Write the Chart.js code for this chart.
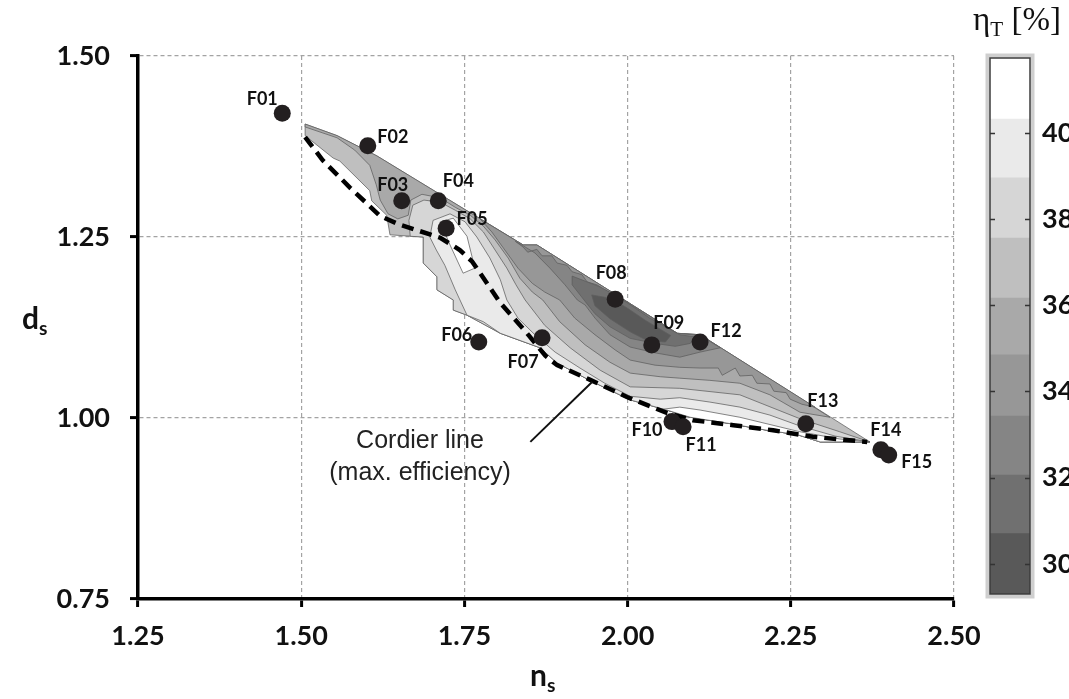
<!DOCTYPE html>
<html>
<head>
<meta charset="utf-8">
<script src="https://cdn.jsdelivr.net/npm/chart.js@4.4.0/dist/chart.umd.min.js"></script>
<style>
body { margin: 0; background: #fff; overflow: hidden; }
#wrap { position: relative; width: 1069px; height: 699px; }
canvas { position: absolute; top: 0; }
.ttl { position: absolute; font-family: Lato, sans-serif; font-weight: bold; color: #111; line-height: 28px; white-space: nowrap; }
.ttl sub { font-size: 0.64em; vertical-align: -0.3em; }
</style>
</head>
<body>
<div id="wrap">
  <canvas id="main" width="1069" height="699" style="left:0"></canvas>
  <canvas id="bar" width="109" height="699" style="left:960px"></canvas>
  <div class="ttl" style="left:22px;top:303px;font-size:30px">d<sub>s</sub></div>
  <div class="ttl" style="left:530px;top:660px;font-size:30px">n<sub>s</sub></div>
  <div class="ttl" style="left:973px;top:5px;font-size:33px;font-weight:normal;font-family:'Liberation Serif',serif">η<sub>T</sub> [%]</div>
</div>
<script>
// axes
var xTickValues = [1.25, 1.50, 1.75, 2.00, 2.25, 2.50];
var yTickValues = [0.75, 1.00, 1.25, 1.50];

// measured designs
var pointNames = ["F01","F02","F03","F04","F05","F06","F07","F08","F09","F10","F11","F12","F13","F14","F15"];
var pointNs = [1.471, 1.602, 1.654, 1.710, 1.722, 1.772, 1.869, 1.981, 2.037, 2.068, 2.085, 2.111, 2.273, 2.388, 2.400];
var pointDs = [1.421, 1.376, 1.300, 1.300, 1.262, 1.105, 1.111, 1.164, 1.101, 0.995, 0.988, 1.105, 0.992, 0.956, 0.949];
var labelOffsets = [[-20,-14],[25,-9],[-9,-16],[20,-20],[26,-9],[-22,-7],[-19,25],[-4,-26],[17,-22],[-25,9],[18,18],[26,-11],[17,-23],[5,-20],[28,7]];

// efficiency bands (colour bar)
var bandEdges = [29.30, 30.70, 32.06, 33.43, 34.85, 36.17, 37.56, 38.96, 40.32, 41.74];
var bandColors = ["#595959","#707070","#858585","#979797","#a9a9a9","#bfbfbf","#d6d6d6","#eaeaea","#ffffff"];
var barTicks = [30, 32, 34, 36, 38, 40];

// contour regions [ns, ds]
var envelope = [[1.506,1.406],[1.555,1.390],[1.616,1.362],[1.840,1.239],[1.861,1.239],[2.076,1.117],[2.111,1.115],[2.371,0.967],[2.295,0.967],[2.260,0.977],[2.214,0.983],[2.152,0.993],[2.096,1.001],[2.060,1.011],[2.004,1.025],[1.942,1.052],[1.892,1.076],[1.866,1.097],[1.805,1.117],[1.754,1.142],[1.733,1.149],[1.733,1.163],[1.708,1.177],[1.708,1.195],[1.687,1.214],[1.687,1.250],[1.636,1.253],[1.631,1.280],[1.608,1.300],[1.605,1.314],[1.559,1.355],[1.549,1.359],[1.506,1.390]];
var zone38 = [[1.667,1.251],[1.665,1.273],[1.671,1.294],[1.688,1.301],[1.713,1.298],[1.736,1.287],[1.759,1.275],[1.779,1.257],[1.797,1.232],[1.815,1.207],[1.829,1.184],[1.843,1.163],[1.873,1.128],[1.912,1.097],[1.958,1.066],[2.004,1.043],[2.080,1.041],[2.172,1.032],[2.264,0.999],[2.325,0.981],[2.371,0.967],[2.295,0.967],[2.260,0.977],[2.214,0.983],[2.152,0.993],[2.096,1.001],[2.060,1.011],[2.004,1.025],[1.942,1.052],[1.892,1.076],[1.866,1.097],[1.805,1.117],[1.754,1.142],[1.733,1.149],[1.733,1.163],[1.708,1.177],[1.708,1.195],[1.687,1.214],[1.687,1.250]];
var zone39 = [[1.697,1.250],[1.702,1.273],[1.728,1.282],[1.751,1.271],[1.769,1.250],[1.789,1.221],[1.805,1.191],[1.815,1.163],[1.832,1.138],[1.858,1.115],[1.889,1.091],[1.927,1.069],[1.965,1.048],[2.004,1.030],[2.050,1.026],[2.080,1.028],[2.126,1.022],[2.172,1.015],[2.218,1.004],[2.264,0.989],[2.318,0.975],[2.371,0.967],[2.295,0.967],[2.260,0.977],[2.214,0.983],[2.152,0.993],[2.096,1.001],[2.060,1.011],[2.004,1.025],[1.942,1.052],[1.892,1.076],[1.866,1.097],[1.805,1.117],[1.779,1.133],[1.754,1.142],[1.736,1.177],[1.720,1.211],[1.707,1.232]];
var peak41 = [[1.713,1.271],[1.733,1.276],[1.754,1.251],[1.766,1.207],[1.748,1.200],[1.728,1.239]];
var edge41 = [[2.053,1.012],[2.080,1.015],[2.111,1.011],[2.172,1.001],[2.264,0.981],[2.325,0.971],[2.371,0.967],[2.295,0.967],[2.260,0.977],[2.214,0.983],[2.152,0.993],[2.096,1.001],[2.060,1.011]];
var zone35 = [[1.506,1.406],[1.555,1.390],[1.616,1.362],[1.840,1.239],[1.861,1.239],[2.076,1.117],[2.111,1.115],[2.310,1.001],[2.264,1.008],[2.218,1.032],[2.172,1.048],[2.126,1.052],[2.080,1.055],[2.050,1.057],[2.004,1.062],[1.973,1.077],[1.935,1.101],[1.896,1.133],[1.870,1.163],[1.854,1.174],[1.835,1.193],[1.817,1.221],[1.797,1.246],[1.779,1.265],[1.759,1.280],[1.736,1.291],[1.713,1.304],[1.685,1.309],[1.668,1.301],[1.664,1.280],[1.648,1.275],[1.633,1.282],[1.621,1.301],[1.615,1.322],[1.605,1.349],[1.582,1.370],[1.555,1.387],[1.506,1.402]];
var zone34 = [[1.774,1.275],[1.840,1.239],[1.861,1.239],[2.076,1.117],[2.111,1.115],[2.287,1.015],[2.267,1.019],[2.249,1.026],[2.243,1.035],[2.224,1.037],[2.218,1.047],[2.198,1.048],[2.191,1.059],[2.172,1.058],[2.165,1.069],[2.145,1.059],[2.139,1.069],[2.111,1.069],[2.080,1.070],[2.042,1.073],[2.004,1.080],[1.981,1.094],[1.950,1.115],[1.919,1.138],[1.896,1.163],[1.873,1.174],[1.854,1.186],[1.832,1.207],[1.812,1.232],[1.792,1.257]];
var zone33 = [[1.828,1.244],[1.840,1.236],[1.847,1.229],[1.861,1.233],[1.869,1.224],[1.884,1.224],[1.892,1.214],[1.907,1.211],[1.915,1.202],[1.930,1.198],[1.938,1.188],[1.953,1.184],[1.965,1.177],[1.988,1.166],[2.076,1.117],[2.111,1.114],[2.142,1.097],[2.111,1.091],[2.080,1.084],[2.042,1.090],[2.004,1.098],[1.973,1.115],[1.950,1.138],[1.935,1.156],[1.923,1.163],[1.904,1.184],[1.881,1.207],[1.858,1.228],[1.838,1.239]];
var zone31 = [[1.915,1.196],[1.958,1.181],[1.988,1.166],[2.034,1.138],[2.080,1.115],[2.103,1.112],[2.096,1.103],[2.073,1.099],[2.042,1.103],[2.004,1.110],[1.973,1.126],[1.950,1.144],[1.935,1.161],[1.915,1.184]];
var zone30 = [[1.945,1.170],[1.976,1.165],[2.001,1.151],[2.027,1.135],[2.066,1.114],[2.058,1.105],[2.030,1.107],[2.004,1.119],[1.973,1.137],[1.950,1.155]];

// bottom to top, with colour band index
var zones = [envelope, zone38, zone39, peak41, edge41, zone35, zone34, zone33, zone31, zone30];
var zoneBands = [5, 6, 7, 8, 8, 4, 3, 2, 1, 0];

var cordier = [[1.506,1.388],[1.533,1.356],[1.575,1.318],[1.621,1.279],[1.651,1.267],[1.682,1.258],[1.713,1.249],[1.743,1.232],[1.762,1.216],[1.805,1.159],[1.846,1.117],[1.874,1.086],[1.892,1.073],[1.942,1.053],[1.999,1.029],[2.060,1.007],[2.100,0.997],[2.162,0.990],[2.223,0.983],[2.284,0.974],[2.367,0.967]];
var pointer = [[1.851,0.967],[1.946,1.050]];
var noteAt = [1.682, 0.968];
var noteLines = ["Cordier line", "(max. efficiency)"];

function xy(list) {
  return list.map(function (p) { return {x: p[0], y: p[1]}; });
}

var datasets = [];
zones.forEach(function (z, i) {
  var pts = xy(z);
  pts.push(pts[0]);
  datasets.push({
    type: "line",
    data: pts,
    backgroundColor: bandColors[zoneBands[i]],
    borderColor: "#5e5e5e",
    borderWidth: 0.75,
    fill: "shape",
    pointRadius: 0,
    tension: 0,
    order: 100 - i
  });
});
datasets.push({
  type: "line", data: xy(cordier), borderColor: "#000", borderWidth: 4.5,
  borderDash: [12, 7], fill: false, pointRadius: 0, tension: 0, order: 3
});
datasets.push({
  type: "line", data: xy(pointer), borderColor: "#111", borderWidth: 2,
  fill: false, pointRadius: 0, order: 2
});
datasets.push({
  data: pointNs.map(function (v, i) { return {x: v, y: pointDs[i]}; }),
  pointRadius: 8.5, pointBackgroundColor: "#231f20", pointBorderWidth: 0, order: 0
});

var tickFont = {family: "Lato", weight: "bold", size: 27};

var labelPlugin = {
  id: "labels",
  afterDraw: function (chart) {
    var ctx = chart.ctx, x = chart.scales.x, y = chart.scales.y;
    ctx.save();
    ctx.font = "bold 18px Lato";
    ctx.fillStyle = "#111";
    ctx.textAlign = "center";
    ctx.textBaseline = "middle";
    pointNames.forEach(function (n, i) {
      ctx.fillText(n, x.getPixelForValue(pointNs[i]) + labelOffsets[i][0],
                      y.getPixelForValue(pointDs[i]) + labelOffsets[i][1]);
    });
    ctx.font = "25px 'Liberation Sans'";
    ctx.fillStyle = "#222";
    var cx = x.getPixelForValue(noteAt[0]), cy = y.getPixelForValue(noteAt[1]);
    noteLines.forEach(function (t, k) { ctx.fillText(t, cx, cy + k * 32); });
    ctx.restore();
  }
};

new Chart(document.getElementById("main"), {
  type: "scatter",
  data: {datasets: datasets},
  options: {
    responsive: false,
    animation: false,
    events: [],
    layout: {padding: {top: 56, right: 115, left: 0, bottom: 0}},
    plugins: {legend: {display: false}, tooltip: {enabled: false}},
    scales: {
      x: {
        type: "linear", min: 1.25, max: 2.5, z: 1,
        afterBuildTicks: function (s) { s.ticks = xTickValues.map(function (v) { return {value: v}; }); },
        afterFit: function (s) { s.height = 100; },
        ticks: {font: tickFont, color: "#111", padding: 13, maxRotation: 0,
                callback: function (v) { return Number(v).toFixed(2); }},
        grid: {color: "#a3a3a3", lineWidth: 1.2, tickLength: 8, tickWidth: 3, tickColor: "#000"},
        border: {color: "#000", width: 3.5, dash: [4, 3]}
      },
      y: {
        type: "linear", min: 0.75, max: 1.5, z: 1,
        afterBuildTicks: function (s) { s.ticks = yTickValues.map(function (v) { return {value: v}; }); },
        afterFit: function (s) { s.width = 138; },
        ticks: {font: tickFont, color: "#111", padding: 20,
                callback: function (v) { return Number(v).toFixed(2); }},
        grid: {color: "#a3a3a3", lineWidth: 1.2, tickLength: 8, tickWidth: 3, tickColor: "#000"},
        border: {color: "#000", width: 3.5, dash: [4, 3]}
      }
    }
  },
  plugins: [labelPlugin]
});

// colour bar
var barFrame = {
  id: "barFrame",
  afterDatasetsDraw: function (chart) {
    var ctx = chart.ctx, a = chart.chartArea, sy = chart.scales.y;
    ctx.save();
    ctx.strokeStyle = "#cfcfcf";
    ctx.lineWidth = 4;
    ctx.strokeRect(a.left - 2.5, a.top - 2.5, a.right - a.left + 5, a.bottom - a.top + 5);
    ctx.strokeStyle = "#3c3c3c";
    ctx.lineWidth = 1.5;
    ctx.strokeRect(a.left, a.top, a.right - a.left, a.bottom - a.top);
    ctx.strokeStyle = "#333";
    barTicks.forEach(function (v) {
      var py = Math.round(sy.getPixelForValue(v)) + 0.5;
      ctx.beginPath();
      ctx.moveTo(a.left, py); ctx.lineTo(a.left + 5, py);
      ctx.moveTo(a.right - 5, py); ctx.lineTo(a.right, py);
      ctx.stroke();
    });
    ctx.restore();
  }
};

new Chart(document.getElementById("bar"), {
  type: "bar",
  data: {
    labels: ["eta"],
    datasets: bandColors.map(function (c, i) {
      return {data: [[bandEdges[i], bandEdges[i + 1]]], backgroundColor: c, borderWidth: 0,
              grouped: false, barPercentage: 1, categoryPercentage: 1};
    })
  },
  options: {
    responsive: false,
    animation: false,
    events: [],
    layout: {padding: {left: 30, top: 58, bottom: 105, right: 0}},
    plugins: {legend: {display: false}, tooltip: {enabled: false}},
    scales: {
      x: {display: false},
      y: {
        position: "right", min: bandEdges[0], max: bandEdges[bandEdges.length - 1],
        afterBuildTicks: function (s) { s.ticks = barTicks.map(function (v) { return {value: v}; }); },
        afterFit: function (s) { s.width = 39; },
        ticks: {font: tickFont, color: "#111", padding: 4},
        grid: {display: false},
        border: {display: false}
      }
    }
  },
  plugins: [barFrame]
});
</script>
</body>
</html>
